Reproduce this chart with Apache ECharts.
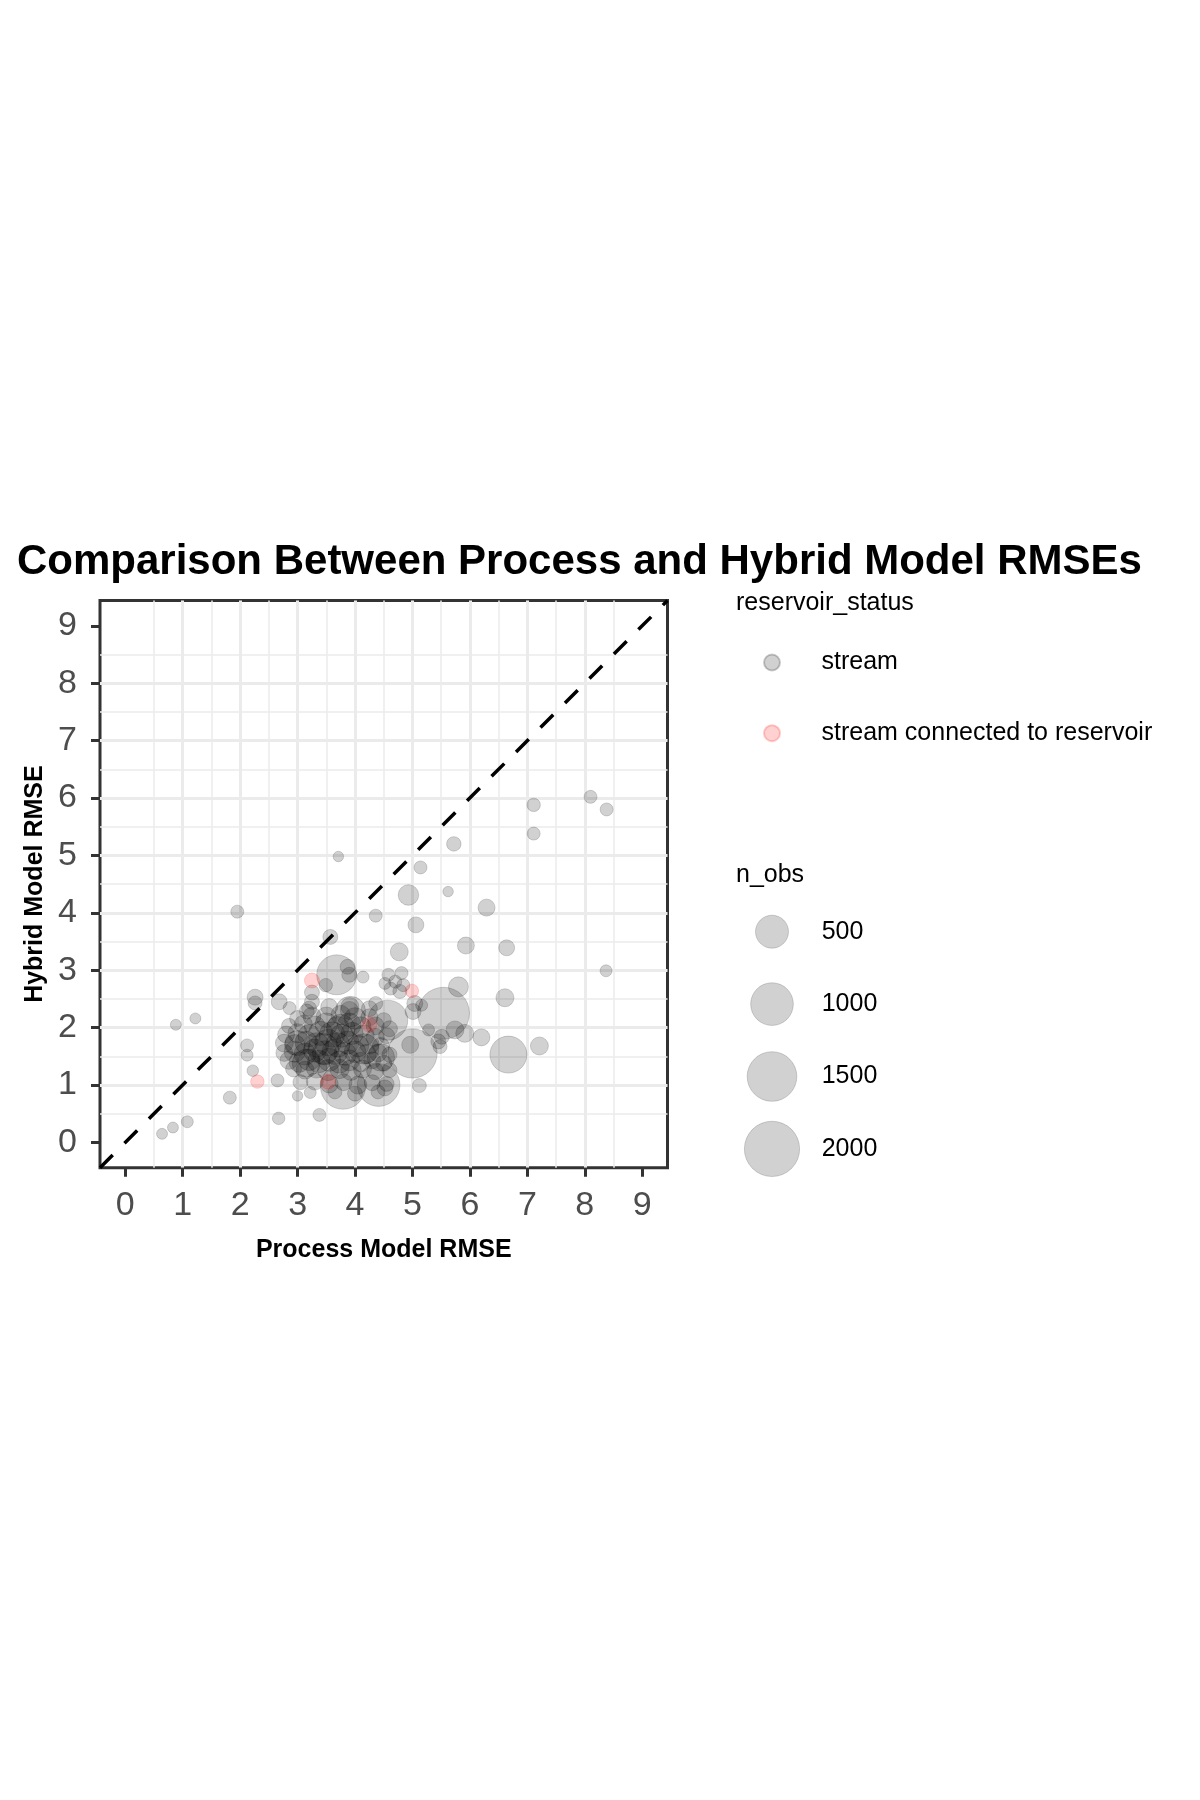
<!DOCTYPE html>
<html><head><meta charset="utf-8">
<script src="https://cdn.jsdelivr.net/npm/echarts@6/dist/echarts.min.js"></script>
<style>html,body{margin:0;padding:0;background:#fff}#c{width:1200px;height:1800px}</style>
</head><body><div id="c"></div>
<script>
// ---------- data ----------
const chartTitle = 'Comparison Between Process and Hybrid Model RMSEs';
const axisTicks = [0, 1, 2, 3, 4, 5, 6, 7, 8, 9];
const statusNames = ['stream', 'stream connected to reservoir'];
const sizeBreaks = [500, 1000, 1500, 2000];
const sizeLabels = ['500', '1000', '1500', '2000'];
const diagonal = [-0.44, 9.44];

// stream sites: process RMSE (x), hybrid RMSE (y), n_obs
const streamProcess = [
  7.11, 8.10, 8.38, 7.11, 5.72, 3.71, 5.14, 4.93, 5.62, 6.29, 1.95, 4.36, 5.06, 3.57, 5.93, 6.64, 4.77, 8.37,
  3.68, 3.87, 3.90, 4.14, 3.49, 3.25, 2.26, 2.26, 2.68, 2.86, 3.25, 4.81, 4.58, 4.70, 4.52, 4.84, 4.62, 4.78,
  5.80, 6.61, 5.04, 5.01, 5.16, 5.54, 5.28, 5.74, 5.91, 6.20, 5.51, 5.45, 5.48, 6.67, 7.21,
  0.88, 1.22, 2.12, 2.12, 2.22, 1.82, 1.08, 0.83, 0.64, 2.67, 3.38, 3.00, 3.22, 2.65, 5.12, 4.52, 4.96,
  5.00, 3.92, 4.57, 3.16, 4.36, 3.91, 3.79, 4.41,
  3.20, 3.55, 3.90, 4.25,
  3.00, 3.25, 3.50, 3.75, 4.00, 4.25, 4.50,
  2.85, 3.10, 3.30, 3.50, 3.70, 3.90, 4.10, 4.35, 4.60,
  2.80, 3.00, 3.20, 3.40, 3.60, 3.77, 3.95, 4.15, 4.35, 4.55,
  2.77, 2.95, 3.15, 3.33, 3.53, 3.70, 3.87, 4.05, 4.25, 4.45,
  2.77, 2.95, 3.13, 3.30, 3.47, 3.65, 3.83, 4.00, 4.20, 4.40, 4.60,
  2.85, 3.03, 3.20, 3.37, 3.55, 3.73, 3.90, 4.10, 4.30, 4.50,
  2.93, 3.13, 3.33, 3.53, 3.73, 3.93, 4.13, 4.35, 4.60,
  3.05, 3.30, 3.55, 3.80, 4.05, 4.30, 4.55,
  3.65, 4.00, 4.40,
  3.45, 4.15, 3.15, 3.75, 3.00, 4.45
];
const streamHybrid = [
  5.88, 6.02, 5.80, 5.38, 5.20, 4.98, 4.79, 4.31, 4.37, 4.09, 4.02, 3.95, 3.79, 3.58, 3.43, 3.39, 3.32, 2.99,
  2.92, 3.06, 2.92, 2.88, 2.74, 2.61, 2.53, 2.43, 2.45, 2.34, 2.45, 2.95, 2.92, 2.80, 2.77, 2.74, 2.68, 2.63,
  2.71, 2.52, 2.42, 2.28, 2.39, 2.25, 1.96, 1.96, 1.90, 1.83, 1.84, 1.76, 1.67, 1.53, 1.68,
  2.05, 2.16, 1.69, 1.52, 1.25, 0.78, 0.36, 0.26, 0.15, 0.42, 0.48, 0.81, 0.87, 1.08, 0.99, 0.95, 1.70,
  1.55, 2.28, 2.13, 2.28, 2.42, 2.37, 0.97, 1.00,
  2.33, 2.36, 2.30, 2.33,
  2.16, 2.20, 2.18, 2.22, 2.16, 2.18, 2.13,
  2.03, 2.06, 2.02, 2.06, 2.00, 2.05, 2.01, 2.03, 1.98,
  1.88, 1.90, 1.86, 1.90, 1.88, 1.86, 1.90, 1.86, 1.83, 1.86,
  1.73, 1.70, 1.74, 1.70, 1.74, 1.70, 1.74, 1.68, 1.71, 1.68,
  1.56, 1.58, 1.54, 1.60, 1.56, 1.58, 1.54, 1.58, 1.54, 1.56, 1.53,
  1.43, 1.40, 1.44, 1.41, 1.44, 1.40, 1.43, 1.40, 1.43, 1.38,
  1.28, 1.26, 1.30, 1.26, 1.28, 1.26, 1.28, 1.24, 1.26,
  1.05, 1.06, 1.02, 1.05, 1.00, 1.04, 1.02,
  0.88, 0.85, 0.88,
  1.63, 1.63, 1.38, 1.98, 1.73, 1.48
];
const streamNobs = [
  45, 41, 41, 41, 55, 23, 41, 140, 23, 84, 41, 41, 71, 60, 84, 71, 98, 33,
  838, 60, 60, 33, 45, 60, 71, 50, 71, 41, 60, 41, 41, 41, 33, 41, 41, 50,
  130, 98, 71, 71, 33, 1695, 33, 98, 98, 84, 60, 60, 50, 679, 98,
  26, 26, 41, 33, 30, 41, 33, 26, 26, 37, 41, 23, 33, 41, 50, 71, 84,
  1470, 400, 840, 60, 50, 98, 1150, 1000,
  60, 84, 98, 71,
  71, 98, 140, 120, 160, 84, 60,
  60, 98, 150, 180, 170, 200, 140, 98, 71,
  84, 120, 170, 220, 250, 190, 170, 150, 98, 71,
  98, 140, 180, 220, 280, 220, 190, 160, 120, 84,
  84, 150, 170, 190, 220, 250, 180, 160, 120, 98, 60,
  98, 140, 160, 180, 190, 170, 150, 120, 84, 71,
  71, 98, 140, 150, 120, 140, 98, 84, 60,
  60, 84, 98, 84, 98, 71, 60,
  50, 60, 50,
  420, 400, 320, 350, 240, 300
];
// stream connected to reservoir
const reservoirProcess = [3.25, 4.99, 4.25, 2.30, 3.53];
const reservoirHybrid = [2.82, 2.64, 2.05, 1.06, 1.06];
const reservoirNobs = [60, 45, 60, 45, 60];

// ---------- chart ----------
const FONT = 'Liberation Sans';
const sizeFn = n => 3.27 * Math.pow(n, 0.372);
const toPts = (xs, ys, ns) => xs.map((x, i) => [x, ys[i], ns[i]]);

const chart = echarts.init(document.getElementById('c'), null, {renderer: 'canvas'});

const valueAxis = (isX) => ({
  type: 'value', gridIndex: 0,
  position: isX ? 'bottom' : 'left',
  min: diagonal[0], max: diagonal[1],
  splitNumber: 10, minInterval: 1, maxInterval: 1,
  name: isX ? 'Process Model RMSE' : 'Hybrid Model RMSE',
  nameLocation: 'middle',
  nameGap: isX ? 70 : 52,
  nameRotate: isX ? 0 : 90,
  nameTextStyle: {fontFamily: FONT, fontSize: 25, fontWeight: 'bold', color: '#000'},
  axisLine: {show: false, onZero: false},
  axisTick: {show: true, inside: false, length: 9, customValues: axisTicks, lineStyle: {color: '#333333', width: 3}},
  axisLabel: {customValues: axisTicks, fontFamily: FONT, fontSize: 34, color: '#4D4D4D',
              margin: isX ? 21 : 23, padding: isX ? 0 : [7, 0, 0, 0]},
  splitLine: {show: true, showMinLine: false, showMaxLine: false, lineStyle: {color: '#EBEBEB', width: 3}},
  minorTick: {show: false, splitNumber: 2},
  minorSplitLine: {show: true, lineStyle: {color: '#EBEBEB', width: 1.5}}
});

const pointStyle = (r, g, b) => ({
  color: `rgba(${r},${g},${b},0.18)`, borderColor: `rgba(${r},${g},${b},0.2)`, borderWidth: 0.8, opacity: 1
});

const option = {
  animation: false,
  backgroundColor: '#ffffff',
  textStyle: {fontFamily: FONT},
  title: [
    {text: chartTitle, left: 17, top: 541.5, padding: 0,
     textStyle: {fontFamily: FONT, fontSize: 42, fontWeight: 'bold', color: '#000'}},
    {text: 'reservoir_status', left: 736, top: 590.4, padding: 0,
     textStyle: {fontFamily: FONT, fontSize: 25, fontWeight: 'normal', color: '#000'}},
    {text: 'n_obs', left: 736, top: 862.4, padding: 0,
     textStyle: {fontFamily: FONT, fontSize: 25, fontWeight: 'normal', color: '#000'}}
  ],
  legend: {
    data: statusNames, orient: 'vertical', left: 763, top: 650, padding: 0,
    itemWidth: 89, itemHeight: 16, itemGap: 45.7, selectedMode: false,
    textStyle: {fontFamily: FONT, fontSize: 25, color: '#000'}
  },
  grid: [
    {left: 100, top: 600.5, width: 567.5, height: 567.2, containLabel: false, outerBoundsMode: 'none',
     show: true, borderColor: '#333333', borderWidth: 3, backgroundColor: 'transparent'},
    {left: 740, top: 895.5, width: 64, height: 289.6, containLabel: false, outerBoundsMode: 'none', show: false}
  ],
  xAxis: [
    valueAxis(true),
    {type: 'value', gridIndex: 1, min: -1, max: 1, show: false}
  ],
  yAxis: [
    valueAxis(false),
    {type: 'category', gridIndex: 1, data: sizeLabels, inverse: true, position: 'right', boundaryGap: true,
     axisLine: {show: false}, axisTick: {show: false}, splitLine: {show: false},
     axisLabel: {fontFamily: FONT, fontSize: 25, color: '#000', margin: 17.7}}
  ],
  series: [
    {name: statusNames[0], type: 'scatter', xAxisIndex: 0, yAxisIndex: 0, z: 2,
     data: toPts(streamProcess, streamHybrid, streamNobs),
     symbol: 'circle', symbolSize: v => sizeFn(v[2]),
     itemStyle: pointStyle(0, 0, 0), emphasis: {disabled: true}},
    {name: statusNames[1], type: 'scatter', xAxisIndex: 0, yAxisIndex: 0, z: 3,
     data: toPts(reservoirProcess, reservoirHybrid, reservoirNobs),
     symbol: 'circle', symbolSize: v => sizeFn(v[2]),
     itemStyle: pointStyle(255, 0, 0), emphasis: {disabled: true}},
    {name: 'y = x', type: 'line', xAxisIndex: 0, yAxisIndex: 0, z: 5,
     data: [[diagonal[0], diagonal[0]], [diagonal[1], diagonal[1]]],
     symbol: 'none', silent: true,
     lineStyle: {color: '#000', width: 3.5, type: [18, 16.6]}},
    {name: 'n_obs', type: 'scatter', xAxisIndex: 1, yAxisIndex: 1, z: 2,
     data: sizeBreaks.map((n, i) => [0, i, n]),
     symbol: 'circle', symbolSize: v => sizeFn(v[2]),
     itemStyle: pointStyle(0, 0, 0), emphasis: {disabled: true}}
  ]
};
chart.setOption(option);
</script>
</body></html>
